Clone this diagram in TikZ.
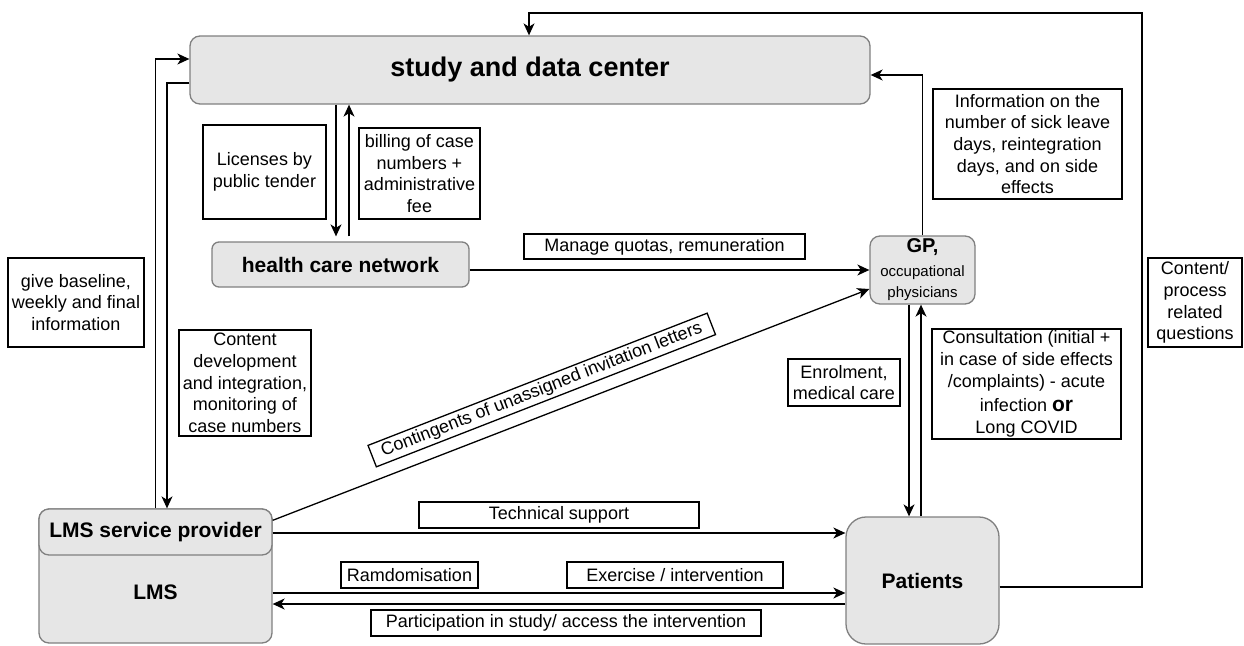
\documentclass[tikz,border=0pt]{standalone}
\usepackage{fontspec}
\setmainfont{Liberation Sans}
\usetikzlibrary{arrows.meta}
\definecolor{entfill}{HTML}{E6E6E6}
\definecolor{entdraw}{HTML}{808080}
\newcommand\mylbl{\fontsize{18}{21.7}\selectfont}
\newcommand\myent{\bfseries\fontsize{21}{25}\selectfont}
\begin{document}
\begin{tikzpicture}[x=1pt,y=-1pt,
  lblbox/.style={draw=black, line width=1.3pt, fill=white, inner sep=0pt, align=center, font=\mylbl},
  entity/.style={draw=entdraw, fill=entfill, line width=1.3pt, inner sep=0pt, align=center, font=\myent},
  arr/.style={-{Stealth[length=12pt,width=11pt,inset=3.5pt]}, line width=1.3pt}]
\useasboundingbox (0,0) rectangle (1244,645);

% entities
\node[entity, rounded corners=10pt, minimum width=680pt, minimum height=68pt, font=\bfseries\fontsize{27}{30}\selectfont] (study) at (530,70) {\raisebox{-1.5pt}{study and data center}};
\node[entity, rounded corners=7pt, minimum width=257pt, minimum height=45pt] (hcn) at (340.5,264.5) {health care network};
\node[entity, rounded corners=10pt, minimum width=105pt, minimum height=68pt, font=\fontsize{15}{21}\selectfont] (gp) at (922.5,270) {{\bfseries\fontsize{20}{20}\selectfont GP,}\\[3pt]occupational\\physicians};
\node[entity, rounded corners=10pt, minimum width=233pt, minimum height=134pt] (lms) at (155.5,576) {};
\node[entity, rounded corners=10pt, minimum width=233pt, minimum height=46pt] (lmshead) at (155.5,532) {LMS service provider};
\node[font=\myent, inner sep=0pt] (lmslabel) at (155.5,592) {LMS};
\node[entity, rounded corners=20pt, minimum width=153pt, minimum height=127pt] (patients) at (922.5,580.5) {Patients};

% label boxes
\node[lblbox, minimum width=123pt, minimum height=94pt] (licenses) at (264.5,172) {Licenses by\\public tender};
\node[lblbox, minimum width=121pt, minimum height=91pt] (billing) at (419.5,173.5) {billing of case\\numbers +\\administrative\\fee};
\node[lblbox, minimum width=189pt, minimum height=110pt] (info) at (1027.5,144) {Information on the\\number of sick leave\\days, reintegration\\days, and on side\\effects};
\node[lblbox, minimum width=281pt, minimum height=25pt] (manage) at (664.5,246.5) {Manage quotas, remuneration};
\node[lblbox, minimum width=136pt, minimum height=89pt] (give) at (76,302.5) {give baseline,\\weekly and final\\information};
\node[lblbox, minimum width=132pt, minimum height=106pt] (contdev) at (245,383) {Content\\development\\and integration,\\monitoring of\\case numbers};
\node[lblbox, minimum width=94pt, minimum height=89pt] (cproc) at (1195,302.5) {Content/\\process\\related\\questions};
\node[lblbox, minimum width=112pt, minimum height=47pt] (enrol) at (844,382.5) {Enrolment,\\medical care};
\node[lblbox, minimum width=189pt, minimum height=110pt] (consult) at (1026.5,384) {Consultation (initial +\\in case of side effects\\/complaints) - acute\\[3pt]infection {\bfseries\fontsize{21}{21}\selectfont or}\\Long COVID};
\node[lblbox, minimum width=280pt, minimum height=26pt] (tech) at (559,515) {Technical support};
\node[lblbox, minimum width=137pt, minimum height=26pt] (ramd) at (409.5,575) {Ramdomisation};
\node[lblbox, minimum width=216pt, minimum height=26pt] (exer) at (675,575) {Exercise / intervention};
\node[lblbox, minimum width=390pt, minimum height=26pt] (partic) at (566,623) {Participation in study/ access the intervention};
\node[lblbox, minimum width=364pt, minimum height=23pt, rotate=21.3] (conting) at (541.75,390) {Contingents of unassigned invitation letters};

% connectors
\draw[arr] (lms.north) |- ([yshift=11pt]study.west);
\draw[arr] ([yshift=-13pt]study.west) -| ([xshift=11.5pt]lmshead.north);

\coordinate (d1) at ([xshift=-4.5pt,yshift=5pt]hcn.north);
\draw[arr] (d1 |- study.south) -- (d1);
\coordinate (u1) at ([xshift=8.5pt,yshift=5pt]hcn.north);
\draw[arr] (u1) -- (u1 |- study.south);

\draw[arr] (hcn.east |- gp.west) -- (gp.west);
\draw[arr] ([yshift=-12pt]lmshead.north east) -- ([yshift=-19pt]gp.west);
\draw[arr] (gp.north) |- ([yshift=-5pt]study.east);

\coordinate (g1) at ([xshift=-13.5pt]gp.south);
\draw[arr] (g1) -- (g1 |- patients.north);
\coordinate (g2) at ([xshift=-1.5pt]patients.north);
\draw[arr] (g2) -- (g2 |- gp.south);

\coordinate (loopc) at (1142,13);
\draw[arr] ([yshift=-6.5pt]patients.east) -| (loopc) -| ([xshift=-1pt]study.north);

\coordinate (t1) at ([yshift=43pt]lms.east);
\draw[arr] (t1) -- (t1 -| patients.west);
\coordinate (r1) at ([yshift=-17pt]lms.east);
\draw[arr] (r1) -- (r1 -| patients.west);
\coordinate (p1) at ([yshift=-28pt]lms.east);
\draw[arr] (p1 -| patients.west) -- (p1);
\end{tikzpicture}
\end{document}
